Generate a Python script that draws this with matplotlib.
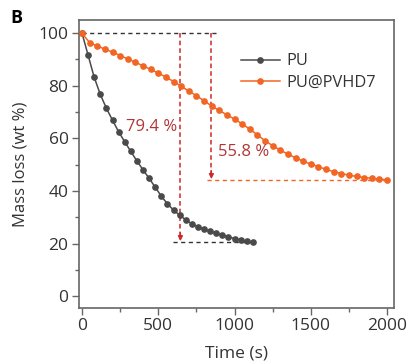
import matplotlib
matplotlib.use("Agg")
import matplotlib.pyplot as plt
from matplotlib.ticker import MultipleLocator

plt.rcParams['font.family'] = ['Open Sans', 'DejaVu Sans']

# Data
pu_time = [0, 40, 80, 120, 160, 200, 240, 280, 320, 360, 400, 440, 480, 520, 560,
           600, 640, 680, 720, 760, 800, 840, 880, 920, 960, 1000, 1040, 1080, 1120]
pu_mass = [100, 91.6, 83.2, 76.7, 71.4, 66.9, 62.5, 58.7, 55.0, 51.4, 48.0, 44.8, 41.4,
           38.0, 35.1, 32.7, 30.8, 29.0, 27.5, 26.3, 25.4, 24.6, 23.9, 23.2, 22.5, 21.9,
           21.4, 20.9, 20.6]

pv_time = list(range(0, 2001, 50))
pv_mass = [100, 96.4, 95.1, 93.9, 92.8, 91.5, 90.2, 88.9, 87.6, 86.2, 84.8, 83.3, 81.6,
           79.8, 78.0, 76.2, 74.3, 72.3, 70.6, 68.9, 67.3, 65.5, 63.5, 61.3, 59.1, 57.2,
           55.5, 54.0, 52.6, 51.3, 50.2, 49.2, 48.2, 47.3, 46.6, 46.0, 45.5, 45.1, 44.8,
           44.5, 44.2]

series_labels = ["PU", "PU@PVHD7"]
pu_loss_label = "79.4 %"
pv_loss_label = "55.8 %"
pu_arrow_t = 645
pv_arrow_t = 848

gray = "#4a4a4a"
orange = "#f26522"
red = "#cc2a2a"
text_red = "#b23535"
txt = "#333333"

fig = plt.figure(figsize=(4.07, 3.64), dpi=100)
ax = fig.add_axes([0.194, 0.154, 0.774, 0.791])

ax.plot(pu_time, pu_mass, '-o', color=gray, lw=1.1, ms=3.8, label=series_labels[0], zorder=3)
ax.plot(pv_time, pv_mass, '-o', color=orange, lw=1.1, ms=3.8, label=series_labels[1], zorder=3)

# reference dashed lines
ax.plot([0, 890], [100, 100], ls=(0, (3, 2.5)), color="#333333", lw=1.0, zorder=2)
ax.plot([595, pu_time[-1]], [pu_mass[-1], pu_mass[-1]], ls=(0, (3, 2.5)), color="#333333", lw=1.0, zorder=2)
ax.plot([818, pv_time[-1]], [pv_mass[-1], pv_mass[-1]], ls=(0, (3, 2.5)), color=orange, lw=1.0, zorder=2)

# red dashed arrows
for t, y_end in [(pu_arrow_t, pu_mass[-1]), (pv_arrow_t, pv_mass[-1])]:
    ax.plot([t, t], [100, y_end + 1.5], ls=(0, (3, 2)), color=red, lw=1.1, zorder=2)
    ax.annotate("", xy=(t, y_end + 0.3), xytext=(t, y_end + 3.5),
                arrowprops=dict(arrowstyle="-|>", color=red, lw=1.0,
                                mutation_scale=7, shrinkA=0, shrinkB=0), zorder=2)

ax.text(pu_arrow_t - 18, 64.3, pu_loss_label, color=text_red, fontsize=12,
        ha='right', va='center')
ax.text(pv_arrow_t + 45, 54.8, pv_loss_label, color=text_red, fontsize=12,
        ha='left', va='center')

ax.set_xlim(-20, 2045)
ax.set_ylim(-4.5, 105)
ax.xaxis.set_major_locator(MultipleLocator(500))
ax.xaxis.set_minor_locator(MultipleLocator(250))
ax.yaxis.set_major_locator(MultipleLocator(20))
ax.yaxis.set_minor_locator(MultipleLocator(10))

for s in ax.spines.values():
    s.set_color("#666666")
    s.set_linewidth(1.2)

ax.tick_params(which='major', direction='out', length=5, width=1.0, color="#666666",
               labelsize=12.5, labelcolor=txt, pad=2.5)
ax.tick_params(which='minor', direction='out', length=3, width=1.0, color="#666666")

ax.set_xlabel("Time (s)", fontsize=12.5, color=txt, labelpad=8)
ax.set_ylabel("Mass loss (wt %)", fontsize=12, color=txt, labelpad=7)

leg = ax.legend(loc='upper right', bbox_to_anchor=(0.99, 0.935), frameon=False,
                fontsize=11.8, handlelength=2.4, handletextpad=0.4, labelspacing=0.3)
for t in leg.get_texts():
    t.set_color(txt)

fig.text(0.025, 0.975, "B", fontsize=13, fontweight='bold', color='black', ha='left', va='top')

fig.savefig("out.png", dpi=100)
